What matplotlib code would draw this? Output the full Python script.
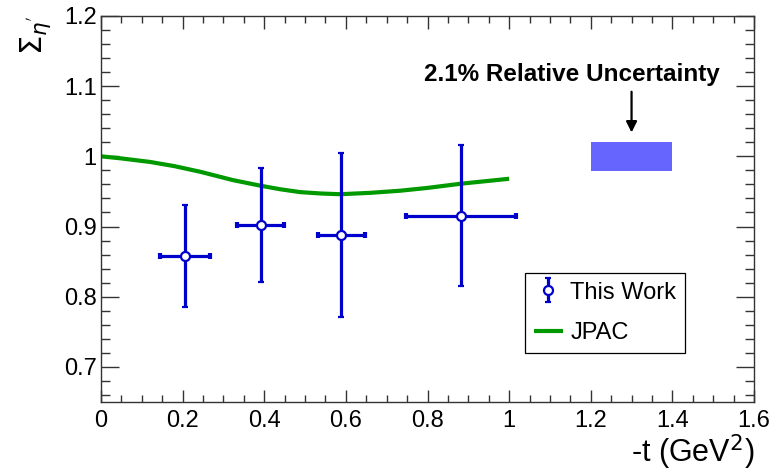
import numpy as np
import matplotlib
matplotlib.use("Agg")
import matplotlib.pyplot as plt
from matplotlib.ticker import MultipleLocator, FuncFormatter
from matplotlib.patches import Rectangle

# ------------------------------------------------------------------
# Beam asymmetry measurement (this work)
# ------------------------------------------------------------------
t_vals = [0.206, 0.391, 0.589, 0.882]
t_err = [0.061, 0.057, 0.057, 0.135]
sigma_vals = [0.858, 0.902, 0.888, 0.915]
sigma_err_lo = [0.072, 0.081, 0.117, 0.100]
sigma_err_hi = [0.073, 0.082, 0.117, 0.101]

# JPAC model prediction
jpac_t = [0.0, 0.05, 0.12, 0.18, 0.243, 0.324, 0.392, 0.44, 0.488,
          0.54, 0.586, 0.66, 0.733, 0.80, 0.882, 1.0]
jpac_sigma = [1.000, 0.997, 0.992, 0.986, 0.978, 0.966, 0.958, 0.953, 0.949,
              0.947, 0.946, 0.948, 0.951, 0.955, 0.961, 0.968]

# Global relative uncertainty band
unc_t = [1.2, 1.4]
unc_level = 1.0
unc_rel = 0.021

plt.rcParams['font.family'] = ['Liberation Sans', 'DejaVu Sans']
plt.rcParams['mathtext.fontset'] = 'dejavusans'

fig = plt.figure(figsize=(7.7, 4.76), dpi=100)
ax = fig.add_axes([0.1312, 0.1555, 0.848, 0.811])

blue = '#0000cc'
green = '#009900'

# JPAC curve
jpac_line, = ax.plot(jpac_t, jpac_sigma, color=green, lw=3.0, label='JPAC',
                     zorder=2, solid_capstyle='butt')

# horizontal bin widths (kept out of the legend)
ax.errorbar(t_vals, sigma_vals, xerr=t_err, fmt='none', ecolor=blue,
            elinewidth=2.3, capsize=2.0, capthick=3.0, zorder=3)
# statistical errors with open markers
data = ax.errorbar(t_vals, sigma_vals, yerr=[sigma_err_lo, sigma_err_hi],
                   fmt='o', color=blue, mfc='white', mec=blue, mew=1.6,
                   ms=6.5, elinewidth=2.3, capsize=2.0, capthick=3.0,
                   zorder=4, label='This Work')

# relative uncertainty box + annotation
ax.add_patch(Rectangle((unc_t[0], unc_level * (1 - unc_rel)),
                       unc_t[1] - unc_t[0], 2 * unc_level * unc_rel,
                       facecolor='#6666ff', edgecolor='none', zorder=2))
ax.annotate('', xy=(1.3, 1.030), xytext=(1.3, 1.096),
            arrowprops=dict(arrowstyle='-|>', color='black', lw=1.6,
                            mutation_scale=16))
ax.text(1.154, 1.1074, '2.1% Relative Uncertainty', ha='center',
        va='baseline', fontsize=17.5, fontweight='bold')

# axes ranges and ROOT-like ticks
ax.set_xlim(0, 1.6)
ax.set_ylim(0.65, 1.2)
ax.xaxis.set_major_locator(MultipleLocator(0.2))
ax.xaxis.set_minor_locator(MultipleLocator(0.05))
ax.yaxis.set_major_locator(MultipleLocator(0.1))
ax.yaxis.set_minor_locator(MultipleLocator(0.02))
fmt = FuncFormatter(lambda v, p: '%g' % round(v, 3))
ax.xaxis.set_major_formatter(fmt)
ax.yaxis.set_major_formatter(fmt)

ax.tick_params(axis='both', which='both', direction='in', top=True,
               right=True, color='#333333', width=1.0)
ax.tick_params(axis='x', which='major', length=9, labelsize=17, pad=6)
ax.tick_params(axis='x', which='minor', length=5)
ax.tick_params(axis='y', which='major', length=13, labelsize=17, pad=3)
ax.tick_params(axis='y', which='minor', length=6.5)
for s in ax.spines.values():
    s.set_color('#333333')
    s.set_linewidth(1.0)

ax.set_xlabel(r'-t (GeV$^{2}$)', fontsize=22, loc='right', labelpad=0)
ax.set_ylabel(r"$\Sigma_{\eta^{'}}$", fontsize=22, loc='top', labelpad=8)

leg = ax.legend([data, jpac_line], ['This Work', 'JPAC'],
                loc='upper left', bbox_to_anchor=(0.650, 0.3334),
                borderaxespad=0, fontsize=17, frameon=True, fancybox=False,
                framealpha=1, edgecolor='black', handlelength=1.25,
                handletextpad=0.3, labelspacing=0.8, borderpad=0.35)
leg.get_frame().set_linewidth(0.9)

fig.savefig('out.png', dpi=100)
